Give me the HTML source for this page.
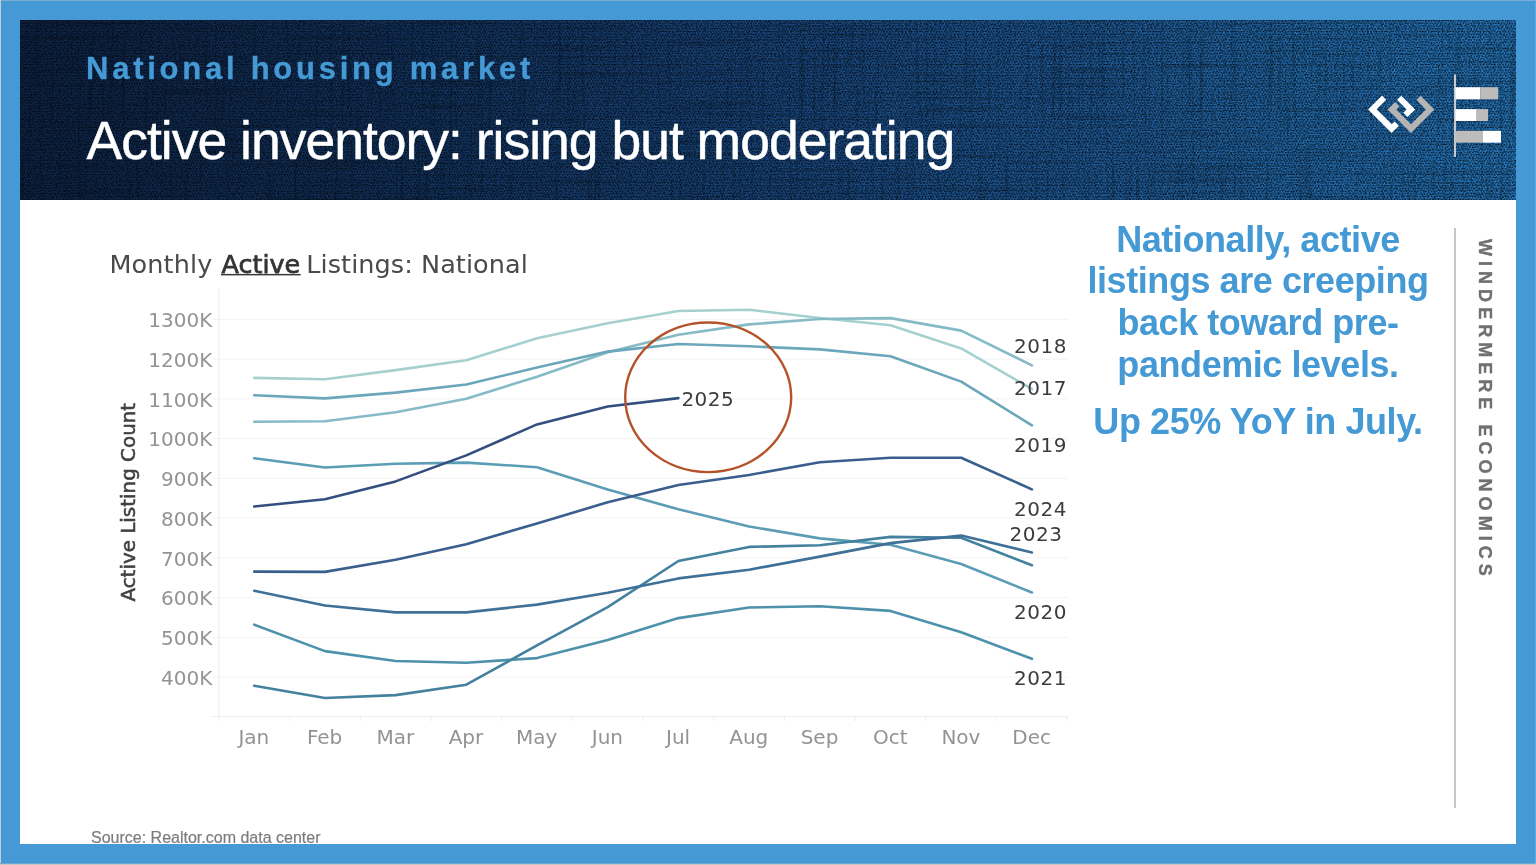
<!DOCTYPE html>
<html lang="en"><head><meta charset="utf-8"><title>Active inventory: rising but moderating</title>
<style>
html,body{margin:0;padding:0}
body{width:1536px;height:865px;overflow:hidden;background:#459ad5;position:relative;font-family:"Liberation Sans",sans-serif}
.edge-t{position:absolute;left:0;top:0;width:1536px;height:1px;background:#7aadd4}
.edge-l{position:absolute;left:0;top:0;width:1px;height:865px;background:#c1cdd7}
.edge-r{position:absolute;left:1535px;top:0;width:1px;height:865px;background:#58aede}
.edge-b{position:absolute;left:0;top:863px;width:1536px;height:2px;background:linear-gradient(#6fa8d6 0,#6fa8d6 50%,#c8c5c2 50%,#c8c5c2 100%)}
.banner{position:absolute;left:20px;top:20px;width:1496px;height:180px;overflow:hidden;background:linear-gradient(90deg,rgb(15,41,80) 0%,rgb(20,57,106) 26%,rgb(27,78,140) 50%,rgb(33,98,166) 70%,rgb(41,131,207) 100%)}
.banner svg{position:absolute;left:0;top:0}
.content{position:absolute;left:20px;top:200px;width:1496px;height:644px;background:#fff}
.kicker{position:absolute;left:86px;top:52px;margin:0;-webkit-text-stroke:0.3px #459ad5;font-size:31px;line-height:34px;font-weight:bold;color:#459ad5;letter-spacing:3.75px;white-space:nowrap}
.title{position:absolute;left:86.6px;top:110.8px;margin:0;-webkit-text-stroke:0.45px #fff;font-size:53.5px;line-height:60px;font-weight:normal;color:#fff;letter-spacing:-1.01px;white-space:nowrap}
.note{position:absolute;left:1058px;top:218.6px;width:400px;margin:0;text-align:center;font-weight:bold;font-size:36px;line-height:41.7px;color:#459ad5;letter-spacing:-0.43px;white-space:nowrap}
.note p{margin:0}
.note p+p{margin-top:15.9px}
.vline{position:absolute;left:1454px;top:228px;width:1.8px;height:580px;background:#c6c6c6}
.side{position:absolute;left:1485.2px;top:238.5px;margin:0;transform-origin:0 0;transform:rotate(90deg) translateY(-50%);font-weight:bold;font-size:18px;line-height:18px;letter-spacing:5.04px;color:#707070;-webkit-text-stroke:0.35px #707070;white-space:nowrap}
.source{position:absolute;left:91px;top:829px;margin:0;font-size:16px;line-height:18px;color:#7c7c7c;-webkit-text-stroke:0.2px #7c7c7c;white-space:nowrap}
.logo{position:absolute;left:1340px;top:60px}
.chart{position:absolute;left:0;top:0}
.chart text{font-family:"DejaVu Sans","Liberation Sans",sans-serif}
.ax{font-size:20px;fill:#939393}
.yr{font-size:20px;fill:#3c3c3c;letter-spacing:0.5px}
.ct{font-size:25.5px;fill:#4a4a4a}
.ct .b{fill:#333;stroke:#333;stroke-width:0.75px}
.yt{font-size:19.9px;fill:#404040;stroke:#404040;stroke-width:0.5px}
</style></head>
<body>
<div class="banner">
<svg width="1496" height="180" viewBox="0 0 1496 180">
<defs>
<pattern id="weave" width="2.75" height="5.5" patternUnits="userSpaceOnUse">
<rect x="0" y="0" width="1.3" height="1.25" fill="#000" fill-opacity="0.7"/>
<rect x="1.4" y="2.75" width="1.3" height="1.25" fill="#000" fill-opacity="0.7"/>
<rect x="0" y="1.9" width="2.75" height="0.6" fill="#000" fill-opacity="0.15"/>
<rect x="0" y="4.65" width="2.75" height="0.6" fill="#000" fill-opacity="0.15"/>
</pattern>
<filter id="slubh" x="0" y="0" width="100%" height="100%">
<feTurbulence type="fractalNoise" baseFrequency="0.008 0.36" numOctaves="2" seed="3"/>
<feColorMatrix type="matrix" values="0 0 0 0 0  0 0 0 0 0  0 0 0 0 0  0.7 0 0 0 -0.365"/>
</filter>
<filter id="slubv" x="0" y="0" width="100%" height="100%">
<feTurbulence type="fractalNoise" baseFrequency="0.36 0.008" numOctaves="2" seed="11"/>
<feColorMatrix type="matrix" values="0 0 0 0 0  0 0 0 0 0  0 0 0 0 0  0.7 0 0 0 -0.365"/>
</filter>
<filter id="grain" x="0" y="0" width="100%" height="100%">
<feTurbulence type="fractalNoise" baseFrequency="0.55 0.7" numOctaves="1" seed="5"/>
<feColorMatrix type="matrix" values="0 0 0 0 0  0 0 0 0 0  0 0 0 0 0  1.7 0 0 0 -0.66"/>
</filter>
</defs>
<rect width="1496" height="180" fill="url(#weave)"/>
<rect width="1496" height="180" filter="url(#slubh)"/>
<rect width="1496" height="180" filter="url(#slubv)"/>
<rect width="1496" height="180" filter="url(#grain)"/>
</svg>
</div>
<div class="content"></div>
<h2 class="kicker">National housing market</h2>
<h1 class="title">Active inventory: rising but moderating</h1>
<svg class="logo" width="176" height="110" viewBox="0 0 176 110">
<polygon fill="#fff" points="42.07,35.57 46.22,39.72 36.66,49.27 51.72,64.33 54.63,61.41 58.93,65.71 51.60,73.04 28.10,49.54"/>
<polygon fill="#b5b4b5" points="80.59,35.63 94.42,49.45 70.98,72.89 47.66,49.57 55.20,42.03 59.50,46.33 56.25,49.57 70.98,64.30 85.88,49.39 76.36,39.87"/>
<polygon fill="#fff" points="61.30,35.63 75.16,49.48 67.58,57.06 63.29,52.76 66.62,49.42 57.07,39.87"/>
<rect x="114" y="14.5" width="2" height="82.5" fill="#c9c9cb"/>
<rect x="115.5" y="27.2" width="24.7" height="12.1" fill="#fff"/><rect x="140.2" y="27.2" width="18" height="12.1" fill="#bdbbbc"/>
<rect x="115.5" y="49.1" width="21.2" height="11.9" fill="#fff"/><rect x="136.7" y="49.1" width="11.3" height="11.9" fill="#bdbbbc"/>
<rect x="115.5" y="70.8" width="27.5" height="11.9" fill="#bdbbbc"/><rect x="143" y="70.8" width="18" height="11.9" fill="#fff"/>
</svg>
<svg class="chart" width="1536" height="865" viewBox="0 0 1536 865">
<line x1="212" y1="319.4" x2="1068" y2="319.4" stroke="#f3f3f3" stroke-width="1"/>
<line x1="212" y1="359.1" x2="1068" y2="359.1" stroke="#f3f3f3" stroke-width="1"/>
<line x1="212" y1="398.9" x2="1068" y2="398.9" stroke="#f3f3f3" stroke-width="1"/>
<line x1="212" y1="438.6" x2="1068" y2="438.6" stroke="#f3f3f3" stroke-width="1"/>
<line x1="212" y1="478.4" x2="1068" y2="478.4" stroke="#f3f3f3" stroke-width="1"/>
<line x1="212" y1="518.1" x2="1068" y2="518.1" stroke="#f3f3f3" stroke-width="1"/>
<line x1="212" y1="557.9" x2="1068" y2="557.9" stroke="#f3f3f3" stroke-width="1"/>
<line x1="212" y1="597.6" x2="1068" y2="597.6" stroke="#f3f3f3" stroke-width="1"/>
<line x1="212" y1="637.4" x2="1068" y2="637.4" stroke="#f3f3f3" stroke-width="1"/>
<line x1="212" y1="677.1" x2="1068" y2="677.1" stroke="#f3f3f3" stroke-width="1"/>
<line x1="218.8" y1="288.5" x2="218.8" y2="721" stroke="#f0f0f0" stroke-width="1.3"/>
<line x1="212" y1="716.5" x2="1068" y2="716.5" stroke="#eeeeee" stroke-width="1.2"/>
<line x1="289.5" y1="716.5" x2="289.5" y2="721" stroke="#eeeeee" stroke-width="1.2"/>
<line x1="360.2" y1="716.5" x2="360.2" y2="721" stroke="#eeeeee" stroke-width="1.2"/>
<line x1="430.9" y1="716.5" x2="430.9" y2="721" stroke="#eeeeee" stroke-width="1.2"/>
<line x1="501.6" y1="716.5" x2="501.6" y2="721" stroke="#eeeeee" stroke-width="1.2"/>
<line x1="572.3" y1="716.5" x2="572.3" y2="721" stroke="#eeeeee" stroke-width="1.2"/>
<line x1="643.0" y1="716.5" x2="643.0" y2="721" stroke="#eeeeee" stroke-width="1.2"/>
<line x1="713.7" y1="716.5" x2="713.7" y2="721" stroke="#eeeeee" stroke-width="1.2"/>
<line x1="784.4" y1="716.5" x2="784.4" y2="721" stroke="#eeeeee" stroke-width="1.2"/>
<line x1="855.1" y1="716.5" x2="855.1" y2="721" stroke="#eeeeee" stroke-width="1.2"/>
<line x1="925.8" y1="716.5" x2="925.8" y2="721" stroke="#eeeeee" stroke-width="1.2"/>
<line x1="996.5" y1="716.5" x2="996.5" y2="721" stroke="#eeeeee" stroke-width="1.2"/>
<line x1="1067.2" y1="716.5" x2="1067.2" y2="721" stroke="#eeeeee" stroke-width="1.2"/>
<polyline points="254.2,377.9 324.9,379.3 395.6,370.1 466.3,360.3 537.0,338.3 607.7,323.2 678.4,311.0 749.1,309.7 819.8,318.0 890.5,325.3 961.2,348.4 1031.9,389.0" fill="none" stroke="#a6d0cf" stroke-width="2.6" stroke-linejoin="round" stroke-linecap="round"/>
<polyline points="254.2,421.8 324.9,421.3 395.6,412.3 466.3,398.7 537.0,376.7 607.7,352.2 678.4,334.7 749.1,324.4 819.8,319.0 890.5,318.1 961.2,330.6 1031.9,365.4" fill="none" stroke="#86bac7" stroke-width="2.6" stroke-linejoin="round" stroke-linecap="round"/>
<polyline points="254.2,395.2 324.9,398.4 395.6,392.6 466.3,384.5 537.0,367.5 607.7,351.6 678.4,344.0 749.1,346.3 819.8,349.4 890.5,356.3 961.2,381.6 1031.9,425.4" fill="none" stroke="#6ba6ba" stroke-width="2.6" stroke-linejoin="round" stroke-linecap="round"/>
<polyline points="254.2,458.3 324.9,467.5 395.6,463.8 466.3,462.6 537.0,467.2 607.7,489.5 678.4,509.3 749.1,526.5 819.8,538.4 890.5,544.7 961.2,564.0 1031.9,592.5" fill="none" stroke="#5b9db5" stroke-width="2.6" stroke-linejoin="round" stroke-linecap="round"/>
<polyline points="254.2,624.6 324.9,651.1 395.6,661.0 466.3,662.7 537.0,658.1 607.7,639.9 678.4,618.1 749.1,607.5 819.8,606.3 890.5,610.9 961.2,632.2 1031.9,658.8" fill="none" stroke="#4d91ab" stroke-width="2.6" stroke-linejoin="round" stroke-linecap="round"/>
<polyline points="254.2,685.8 324.9,698.0 395.6,695.1 466.3,684.7 537.0,645.4 607.7,607.2 678.4,561.0 749.1,546.9 819.8,545.3 890.5,536.9 961.2,537.8 1031.9,565.3" fill="none" stroke="#44819f" stroke-width="2.6" stroke-linejoin="round" stroke-linecap="round"/>
<polyline points="254.2,590.7 324.9,605.5 395.6,612.4 466.3,612.4 537.0,604.6 607.7,592.7 678.4,578.4 749.1,569.7 819.8,556.6 890.5,543.1 961.2,535.6 1031.9,552.5" fill="none" stroke="#3f7198" stroke-width="2.6" stroke-linejoin="round" stroke-linecap="round"/>
<polyline points="254.2,571.6 324.9,571.9 395.6,559.8 466.3,544.2 537.0,523.4 607.7,502.3 678.4,485.0 749.1,475.0 819.8,462.2 890.5,457.8 961.2,457.8 1031.9,489.4" fill="none" stroke="#3a5e8d" stroke-width="2.6" stroke-linejoin="round" stroke-linecap="round"/>
<polyline points="254.2,506.5 324.9,499.3 395.6,481.4 466.3,455.4 537.0,424.4 607.7,406.5 678.4,398.1" fill="none" stroke="#324f7f" stroke-width="2.6" stroke-linejoin="round" stroke-linecap="round"/>
<text class="ax" x="212.3" y="327.1" text-anchor="end">1300K</text>
<text class="ax" x="212.3" y="366.8" text-anchor="end">1200K</text>
<text class="ax" x="212.3" y="406.6" text-anchor="end">1100K</text>
<text class="ax" x="212.3" y="446.3" text-anchor="end">1000K</text>
<text class="ax" x="212.3" y="486.1" text-anchor="end">900K</text>
<text class="ax" x="212.3" y="525.9" text-anchor="end">800K</text>
<text class="ax" x="212.3" y="565.6" text-anchor="end">700K</text>
<text class="ax" x="212.3" y="605.4" text-anchor="end">600K</text>
<text class="ax" x="212.3" y="645.1" text-anchor="end">500K</text>
<text class="ax" x="212.3" y="684.9" text-anchor="end">400K</text>
<text class="ax" x="253.9" y="744.2" text-anchor="middle">Jan</text>
<text class="ax" x="324.6" y="744.2" text-anchor="middle">Feb</text>
<text class="ax" x="395.3" y="744.2" text-anchor="middle">Mar</text>
<text class="ax" x="466.0" y="744.2" text-anchor="middle">Apr</text>
<text class="ax" x="536.7" y="744.2" text-anchor="middle">May</text>
<text class="ax" x="607.4" y="744.2" text-anchor="middle">Jun</text>
<text class="ax" x="678.1" y="744.2" text-anchor="middle">Jul</text>
<text class="ax" x="748.8" y="744.2" text-anchor="middle">Aug</text>
<text class="ax" x="819.5" y="744.2" text-anchor="middle">Sep</text>
<text class="ax" x="890.2" y="744.2" text-anchor="middle">Oct</text>
<text class="ax" x="960.9" y="744.2" text-anchor="middle">Nov</text>
<text class="ax" x="1031.6" y="744.2" text-anchor="middle">Dec</text>
<text class="yr" x="1014.1" y="353.2">2018</text>
<text class="yr" x="1014.1" y="395.3">2017</text>
<text class="yr" x="1014.1" y="451.8">2019</text>
<text class="yr" x="1014.1" y="516.0">2024</text>
<text class="yr" x="1009.6" y="541.1">2023</text>
<text class="yr" x="1014.1" y="619.0">2020</text>
<text class="yr" x="1014.1" y="685.4">2021</text>
<text class="yr" x="681.4" y="405.6">2025</text>
<ellipse cx="708.2" cy="397.3" rx="83" ry="74.8" fill="none" stroke="#b4532a" stroke-width="2.4"/>
<text class="ct" y="273"><tspan x="109.4" textLength="103" lengthAdjust="spacing">Monthly</tspan><tspan class="b" x="221.6" textLength="78.6" lengthAdjust="spacingAndGlyphs">Active</tspan><tspan x="306.3" textLength="221.5" lengthAdjust="spacing">Listings: National</tspan></text>
<rect x="221" y="273.9" width="79.6" height="1.5" fill="#3a3a3a"/>
<text class="yt" transform="translate(135.3,601.6) rotate(-90)">Active Listing Count</text>
</svg>
<div class="note"><p>Nationally, active<br>listings are creeping<br>back toward pre-<br>pandemic levels.</p><p>Up 25% YoY in July.</p></div>
<div class="vline"></div>
<p class="side">WINDERMERE ECONOMICS</p>
<p class="source">Source: Realtor.com data center</p>
<div class="edge-t"></div><div class="edge-r"></div><div class="edge-l"></div><div class="edge-b"></div>
</body></html>
